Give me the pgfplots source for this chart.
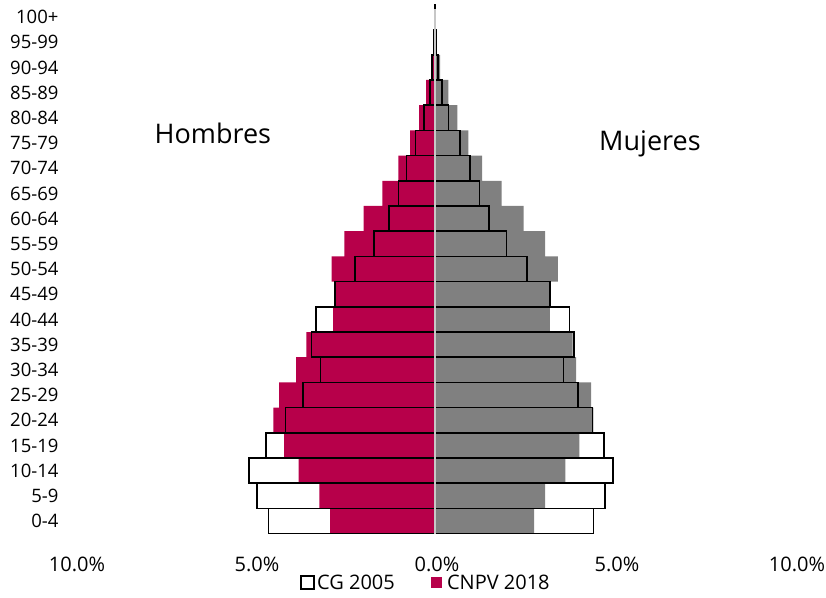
\documentclass[border=0pt]{standalone}
\usepackage{pgfplots}
\pgfplotsset{compat=1.18}
\usepackage{pgfplotstable}
\usepackage{fontspec}
\setmainfont{Open Sans}
\definecolor{hombres}{HTML}{B7004A}
\definecolor{mujeres}{HTML}{808080}

% age group index, CNPV 2018 (men negative), CG 2005 (men negative)
\pgfplotstableread{
idx m18   f18  m05   f05
0  -2.91 2.75 -4.63 4.40
1  -3.21 3.06 -4.94 4.73
2  -3.79 3.62 -5.16 4.94
3  -4.19 4.01 -4.70 4.69
4  -4.49 4.40 -4.15 4.37
5  -4.33 4.34 -3.66 3.98
6  -3.86 3.92 -3.18 3.57
7  -3.57 3.82 -3.43 3.86
8  -2.83 3.19 -3.31 3.74
9  -2.76 3.18 -2.77 3.19
10 -2.87 3.41 -2.23 2.55
11 -2.52 3.06 -1.70 1.99
12 -1.98 2.46 -1.28 1.50
13 -1.46 1.85 -1.01 1.24
14 -1.02 1.31 -0.79 0.98
15 -0.69 0.93 -0.54 0.69
16 -0.44 0.62 -0.30 0.38
17 -0.25 0.37 -0.14 0.20
18 -0.10 0.14 -0.08 0.08
19 -0.03 0.04 -0.02 0.02
20 -0.01 0.01 -0.01 0.01
}\datos

\begin{document}
\begin{tikzpicture}
\path[use as bounding box] (0,0) rectangle (826pt,597pt);
\begin{axis}[
  at={(75pt,63.4pt)}, anchor=south west,
  width=720pt, height=529.2pt, scale only axis,
  xmin=-10, xmax=10, ymin=-0.5, ymax=20.5,
  axis line style={draw=none}, major tick length=0pt,
  xtick={-10,-5,0,5,10},
  xticklabels={10.0\%,5.0\%,0.0\%,5.0\%,10.0\%},
  ytick={0,...,20},
  yticklabels={0-4,5-9,10-14,15-19,20-24,25-29,30-34,35-39,40-44,45-49,50-54,55-59,60-64,65-69,70-74,75-79,80-84,85-89,90-94,95-99,100+},
  xticklabel style={font=\fontsize{20}{24}\selectfont, yshift=-20pt, xshift=2pt},
  yticklabel style={font=\fontsize{18.5}{22}\selectfont, xshift=-13pt},
  legend style={at={(0.5,0)}, anchor=center, xshift=-9pt, yshift=-49pt,
    draw=none, fill=none, legend columns=2,
    font=\fontsize{20}{24}\selectfont,
    /tikz/every even column/.append style={column sep=34pt}},
]
\addplot[xbar, bar width=1, bar shift=0pt, fill=hombres, draw=none, forget plot] table[x=m18, y=idx] {\datos};
\addplot[xbar, bar width=1, bar shift=0pt, fill=mujeres, draw=none, forget plot] table[x=f18, y=idx] {\datos};
\addplot[xbar, bar width=1, bar shift=0pt, fill=none, draw=black, line width=1.6pt, forget plot] table[x=m05, y=idx] {\datos};
\addplot[xbar, bar width=1, bar shift=0pt, fill=none, draw=black, line width=1.6pt, forget plot] table[x=f05, y=idx] {\datos};
\draw[line width=2.2pt, black!22] (axis cs:0,-0.5) -- (axis cs:0,20.3);
\addlegendimage{legend image code/.code={\draw[draw=black, fill=white, line width=1.8pt] (0pt,-6.5pt) rectangle (13pt,6.5pt);}}
\addlegendentry{CG 2005}
\addlegendimage{legend image code/.code={\fill[hombres] (0pt,-5pt) rectangle (10pt,5pt); \path[draw=none, fill=none] (14pt,0pt) circle[radius=0.01pt];}}
\addlegendentry{CNPV 2018}
\node[font=\fontsize{27}{32}\selectfont] at (axis cs:-6.17,15.4) {Hombres};
\node[font=\fontsize{27}{32}\selectfont] at (axis cs:5.97,14.95) {Mujeres};
\end{axis}
\end{tikzpicture}
\end{document}
